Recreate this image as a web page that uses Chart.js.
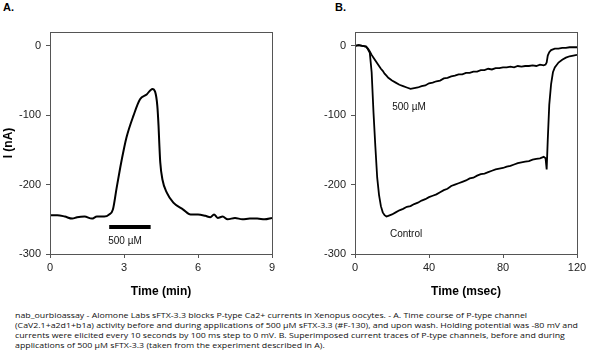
<!DOCTYPE html>
<html>
<head>
<meta charset="utf-8">
<script src="https://cdn.jsdelivr.net/npm/chart.js@4.4.1/dist/chart.umd.min.js"></script>
<style>
    body { margin: 0; background: #fff; width: 601px; height: 360px; overflow: hidden; position: relative; font-family: "Liberation Sans", Arial, sans-serif; }
    .panel { position: absolute; top: 0; }
    .tag { position: absolute; top: 1px; font-weight: bold; font-size: 11px; color: #000; }
    #caption { position: absolute; left: 15px; top: 310px; font-family: "Open Sans", "Noto Sans", sans-serif; font-size: 8px; line-height: 10px; color: #111; white-space: nowrap; transform-origin: 0 0; }
</style>
</head>
<body>
<div class="tag" style="left:3px">A.</div>
<div class="tag" style="left:335px">B.</div>
<div class="panel" style="left:0"><canvas id="chartA" width="300" height="305"></canvas></div>
<div class="panel" style="left:300px"><canvas id="chartB" width="301" height="305"></canvas></div>
<div id="caption">
    <div>nab_ourbioassay - Alomone Labs sFTX-3.3 blocks P-type Ca2+ currents in Xenopus oocytes. - A. Time course of P-type channel</div>
    <div id="longLine">(CaV2.1+a2d1+b1a) activity before and during applications of 500 µM sFTX-3.3 (#F-130), and upon wash. Holding potential was -80 mV and</div>
    <div>currents were elicited every 10 seconds by 100 ms step to 0 mV. B. Superimposed current traces of P-type channels, before and during</div>
    <div>applications of 500 µM sFTX-3.3 (taken from the experiment described in A).</div>
</div>
<script>
// Panel A - time course (min vs nA)
const timeA = [0, 0.3, 0.6, 0.9, 1.1, 1.4, 1.7, 1.9, 2.2, 2.4, 2.55, 2.7, 2.85, 3.0, 3.1, 3.38, 3.65, 3.92, 4.15, 4.26, 4.35, 4.4, 4.43, 4.47, 4.56, 4.74, 5.0, 5.4, 5.7, 6.0, 6.3, 6.5, 6.65, 6.8, 7.0, 7.2, 7.5, 7.8, 8.1, 8.4, 8.7, 9.0];
const currentA = [-244, -244, -246, -249, -247, -246, -249, -246, -246, -243, -236, -205, -175, -148, -132, -101, -77, -70, -62, -66, -86, -115, -140, -168, -193, -212, -226, -236, -243, -243, -245, -247, -243, -248, -246, -250, -248, -250, -249, -249, -250, -248];
// toxin application bar (start, end, level)
const barA = [2.4, 4.08];
const barLevel = -261;

// Panel B - superimposed traces (msec vs nA)
const timeB = [0, 2, 4, 6, 7, 8, 9, 10, 11, 12, 13, 14, 15, 16, 17, 18, 20, 22, 24, 26, 28, 30, 32, 34, 36, 38, 40, 42, 44, 46, 48, 50, 52, 54, 56, 58, 60, 62, 64, 66, 68, 70, 72, 74, 76, 78, 80, 82, 84, 86, 88, 90, 92, 94, 96, 98, 100, 102, 103, 103.6, 104.2, 105, 106, 107, 108, 110, 112, 114, 116, 118, 120];
const toxinB = [0, 1, 0, -1, -4, -8, -13, -17, -21, -25, -29, -33, -36, -40, -43, -46, -50, -53, -56, -58, -60, -62, -61, -60, -58, -57, -54, -53, -51, -50, -47, -46, -44, -43, -41, -41, -39, -39, -37, -37, -35, -35, -33, -34, -32, -32, -31, -31, -30, -31, -29, -30, -29, -29, -28, -29, -27, -28, -27, -24, -14, -9, -6, -5, -4, -4, -3, -3, -2, -2, -2];
const controlB = [0, 1, 0, -1, -5, -10, -38, -96, -145, -190, -215, -231, -240, -244, -246, -245, -243, -240, -237, -235, -232, -231, -228, -226, -223, -221, -218, -216, -214, -211, -208, -206, -202, -200, -198, -196, -194, -191, -190, -187, -185, -184, -182, -180, -178, -177, -176, -174, -173, -171, -169, -168, -167, -166, -164, -163, -162, -160, -162, -178, -135, -85, -55, -38, -31, -24, -20, -17, -15, -14, -13];

const yTicks = [-300, -200, -100, 0];
const axisColor = '#555';
const tickFont = { family: '"Liberation Sans Narrow", "Liberation Sans", Arial, sans-serif', size: 11 };
const titleFont = { family: '"Liberation Sans", Arial, sans-serif', size: 12, weight: 'bold' };

function pts(xs, ys) {
    return xs.map((x, i) => ({ x: x, y: ys[i] }));
}

// box around plot area + in-plot text labels
const boxPlugin = {
    id: 'box',
    afterDraw(chart, args, opts) {
        const { ctx, chartArea: a, scales } = chart;
        ctx.save();
        ctx.strokeStyle = axisColor;
        ctx.lineWidth = 1;
        ctx.strokeRect(Math.round(a.left) + 0.5, Math.round(a.top) + 0.5, Math.round(a.right - a.left), Math.round(a.bottom - a.top));
        ctx.fillStyle = '#111';
        ctx.font = '10px "Liberation Sans Narrow", "Liberation Sans", Arial, sans-serif';
        ctx.textAlign = 'center';
        ctx.textBaseline = 'middle';
        (opts.labels || []).forEach(l => {
            ctx.fillText(l.text, scales.x.getPixelForValue(l.x), scales.y.getPixelForValue(l.y));
        });
        ctx.restore();
    }
};

function baseOptions(xMin, xMax, xStep, xTitle, yTitle, yWidth, padRight, labels) {
    return {
        responsive: false,
        animation: false,
        layout: { padding: { top: 32, right: padRight, left: 0, bottom: 0 } },
        plugins: { legend: { display: false }, tooltip: { enabled: false }, box: { labels: labels } },
        elements: { point: { radius: 0 } },
        scales: {
            x: {
                type: 'linear', min: xMin, max: xMax,
                ticks: { stepSize: xStep, color: '#222', font: tickFont, padding: 3, maxRotation: 0 },
                grid: { drawOnChartArea: false, drawTicks: true, tickLength: 4, color: axisColor },
                border: { color: axisColor },
                title: { display: true, text: xTitle, color: '#000', font: titleFont, padding: { top: 0, bottom: 6 } },
                afterFit: s => { s.height = 51; }
            },
            y: {
                type: 'linear', min: -300, max: 20,
                afterBuildTicks: s => { s.ticks = yTicks.map(v => ({ value: v })); },
                ticks: { color: '#222', font: tickFont, padding: 5 },
                grid: { drawOnChartArea: false, drawTicks: true, tickLength: 4, color: axisColor },
                border: { color: axisColor },
                title: { display: !!yTitle, text: yTitle, color: '#000', font: titleFont, padding: { top: 1, bottom: 0 } },
                afterFit: s => { s.width = yWidth; }
            }
        }
    };
}

new Chart(document.getElementById('chartA'), {
    type: 'line',
    data: {
        datasets: [
            {
                data: pts(timeA, currentA),
                borderColor: '#000', borderWidth: 2,
                cubicInterpolationMode: 'monotone'
            },
            {
                data: pts(barA, [barLevel, barLevel]),
                borderColor: '#000', borderWidth: 4, borderCapStyle: 'butt'
            }
        ]
    },
    options: baseOptions(0, 9, 3, 'Time (min)', 'I (nA)', 50, 28, [{ text: '500 µM', x: 3.04, y: -281 }]),
    plugins: [boxPlugin]
});

new Chart(document.getElementById('chartB'), {
    type: 'line',
    data: {
        datasets: [
            { data: pts(timeB, toxinB), borderColor: '#000', borderWidth: 1.8, tension: 0 },
            { data: pts(timeB, controlB), borderColor: '#000', borderWidth: 1.8, tension: 0 }
        ]
    },
    options: baseOptions(0, 120, 40, 'Time (msec)', '', 55, 24, [
        { text: '500 µM', x: 29.2, y: -89 },
        { text: 'Control', x: 27.6, y: -271 }
    ]),
    plugins: [boxPlugin]
});

// squeeze caption to the reference line length
const cap = document.getElementById('caption');
const w = document.getElementById('longLine').getBoundingClientRect().width;
cap.style.transform = 'scaleX(' + (563 / w) + ')';
</script>
</body>
</html>
